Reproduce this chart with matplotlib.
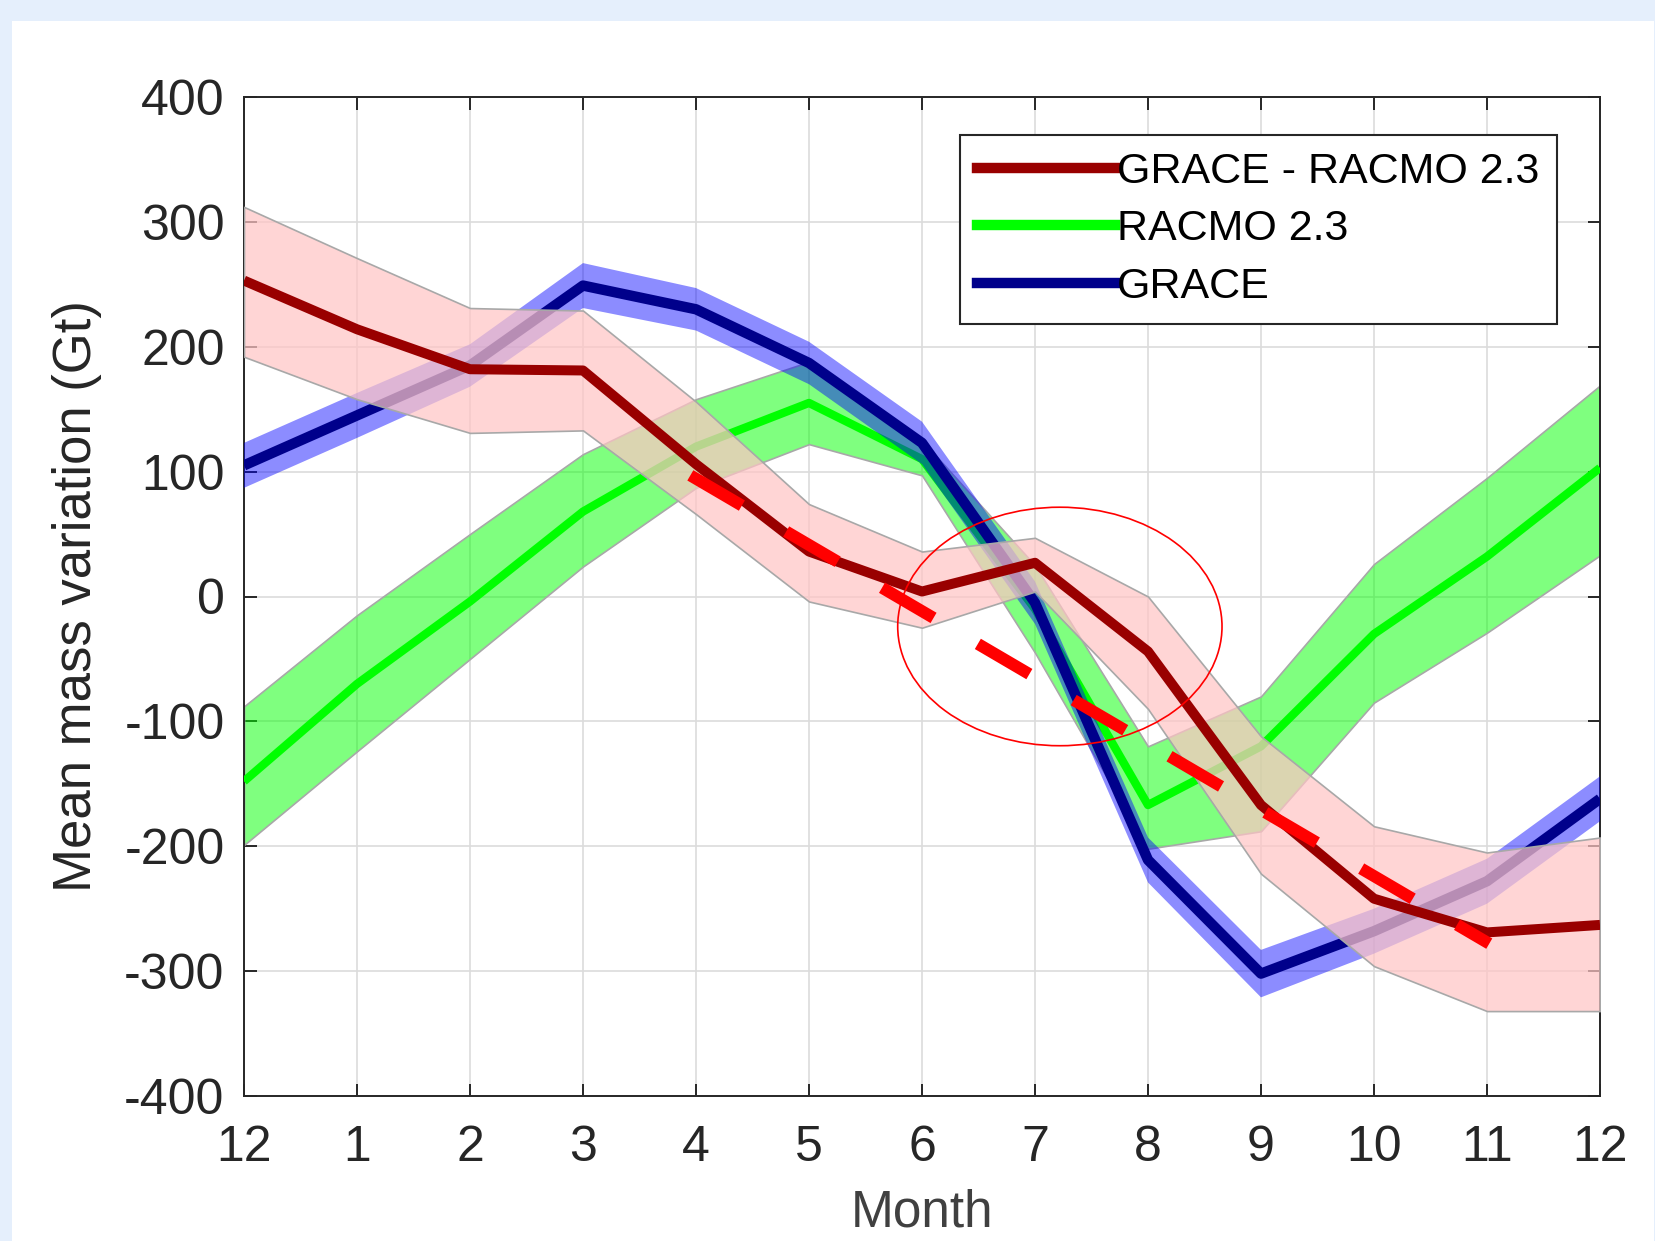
import numpy as np
import matplotlib
matplotlib.use("Agg")
import matplotlib.pyplot as plt
from matplotlib.patches import Ellipse, Rectangle
from matplotlib.lines import Line2D

plt.rcParams['font.family'] = ['Liberation Sans', 'DejaVu Sans']
plt.rcParams['axes.unicode_minus'] = False

# months (Dec .. Dec)
month_labels = ["12", "1", "2", "3", "4", "5", "6", "7", "8", "9", "10", "11", "12"]

# GRACE - RACMO 2.3 (mean and band)
diff = [253, 214, 182, 181, 106, 36, 4, 27, -44, -167, -242, -269, -263]
diff_hi = [312, 271, 231, 229, 156, 74, 36, 47, 0, -112, -184, -205, -193]
diff_lo = [192, 158, 131, 133, 66, -4, -25, 4, -90, -222, -296, -332, -332]

# RACMO 2.3
racmo = [-148, -70, -4, 68, 120, 155, 110, -10, -167, -120, -30, 32, 103]
racmo_hi = [-88, -15, 50, 114, 158, 188, 125, 25, -120, -80, 26, 95, 169]
racmo_lo = [-199, -124, -50, 24, 87, 122, 97, -45, -202, -188, -85, -29, 33]

# GRACE
grace = [105, 145, 185, 249, 230, 187, 123, -5, -211, -302, -268, -228, -162]
grace_err = [18, 18, 17, 18, 17, 17, 17, 17, 18, 19, 18, 18, 18]

# hand drawn trend + ellipse
trend_x = [3.95, 11.02]
trend_y = [97, -278]
ell_center = (7.22, -24)
ell_w, ell_h = 2.87, 191

x = np.arange(len(month_labels))
grace = np.array(grace)
grace_err = np.array(grace_err)

fig = plt.figure(figsize=(16.56, 12.41), dpi=100, facecolor='#e5effc')
fig.patches.append(Rectangle((12/1656, 0), (1654-12)/1656, 1-21/1241,
                             transform=fig.transFigure, facecolor='white',
                             edgecolor='none', zorder=-10))
ax = fig.add_axes([244/1656, 1-1096/1241, 1356/1656, 999/1241])
ax.set_zorder(1)
ax.set_facecolor('white')

edge = '#a8a8a8'
# RACMO band + line
ax.fill_between(x, racmo_lo, racmo_hi, facecolor=(0, 1, 0, 0.5), edgecolor=edge, lw=1.2, zorder=2)
ax.plot(x, racmo, color='#00ff00', lw=6, zorder=3, solid_capstyle='butt')
# GRACE band + line
ax.fill_between(x, grace - grace_err, grace + grace_err, facecolor=(0, 0, 1, 0.45),
                edgecolor='none', zorder=4)
ax.plot(x, grace, color='#00008b', lw=7.5, zorder=5, solid_capstyle='butt')
# difference band + line
ax.fill_between(x, diff_lo, diff_hi, facecolor=(1, 0.773, 0.773, 0.72), edgecolor=edge, lw=1.2, zorder=6)
ax.plot(x, diff, color='#990000', lw=7.2, zorder=7, solid_capstyle='butt')

ax.plot(trend_x, trend_y, color='#ff0000', lw=8.6, dashes=(5, 4.3), zorder=8,
        solid_capstyle='butt', dash_capstyle='butt')
ax.add_patch(Ellipse(ell_center, ell_w, ell_h, fill=False, edgecolor='#ff0000', lw=1.2, zorder=9))

ax.set_xlim(0, 12)
ax.set_ylim(-400, 400)
ax.set_xticks(x)
ax.set_xticklabels(month_labels)
ax.set_yticks(np.arange(-400, 401, 100))
ax.grid(True, color='#dcdcdc', lw=1.2, zorder=1)
ax.set_axisbelow(True)
ax.tick_params(direction='in', length=9, width=1.4, top=True, right=True,
               labelsize=36, colors='#262626')
ax.tick_params(axis='x', pad=21)
ax.tick_params(axis='y', pad=14)
for s in ax.spines.values():
    s.set_linewidth(1.4)
    s.set_color('#262626')

ax.set_xlabel('Month', fontsize=37, color='#404040', va='baseline')
ax.set_ylabel('Mean mass variation (Gt)', fontsize=38, color='#262626')
ax.xaxis.set_label_coords(0.5, -0.131)
ax.yaxis.set_label_coords(-0.105, 0.5)

handles = [Line2D([], [], color='#990000', lw=7.5),
           Line2D([], [], color='#00ff00', lw=7.5),
           Line2D([], [], color='#00008b', lw=7.5)]
leg = ax.legend(handles, ['GRACE - RACMO 2.3', 'RACMO 2.3', 'GRACE'],
                loc='upper right', bbox_to_anchor=(0.968, 0.962), borderaxespad=0,
                fontsize=31, handlelength=3.2, handletextpad=0.05, labelspacing=0.4,
                fancybox=False, framealpha=1, edgecolor='#262626', borderpad=0.4)
leg.get_frame().set_linewidth(1.5)
leg.set_zorder(10)

fig.savefig('out.png', dpi=100, facecolor=fig.get_facecolor())
